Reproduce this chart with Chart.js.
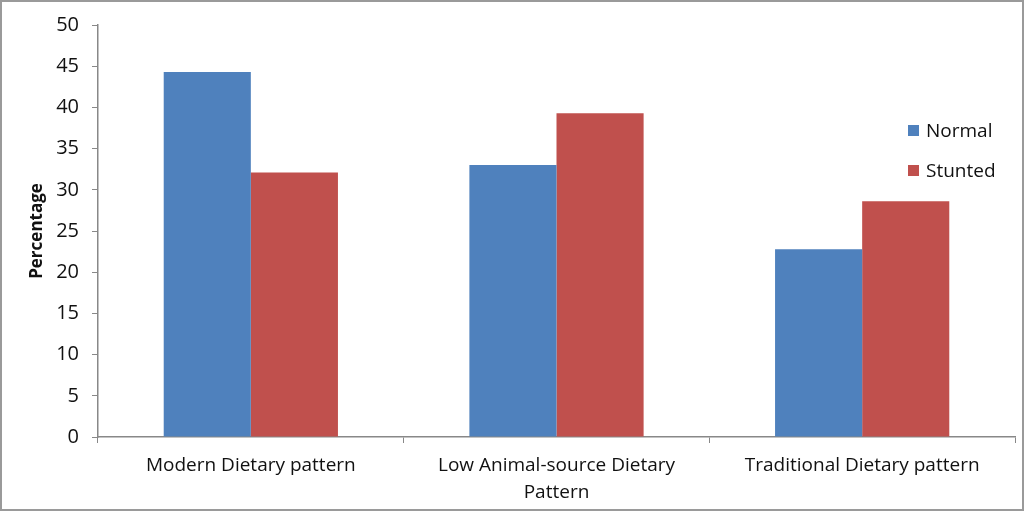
<!DOCTYPE html>
<html>
<head>
<meta charset="utf-8">
<script src="https://cdn.jsdelivr.net/npm/chart.js@4"></script>
<style>
html,body{margin:0;padding:0;background:#fff;}
#wrap{position:relative;width:1024px;height:511px;overflow:hidden;}
#frame{position:absolute;left:0;top:0;width:1020px;height:507px;border:2px solid #9a9a9a;pointer-events:none;}
#legend{position:absolute;left:908px;top:110px;font-family:'Open Sans',sans-serif;font-size:19px;color:#111;}
.li{display:flex;align-items:center;height:40px;}
.sw{width:11px;height:11px;margin-right:7px;}
</style>
</head>
<body>
<div id="wrap">
<canvas id="c" width="1024" height="511"></canvas>
<div id="legend"></div>
<div id="frame"></div>
</div>
<script>
const categories = [['Modern Dietary pattern'], ['Low Animal-source Dietary', 'Pattern'], ['Traditional Dietary pattern']];
const seriesNames = ['Normal', 'Stunted'];
const normalValues = [44.3, 33.0, 22.8];
const stuntedValues = [32.1, 39.3, 28.6];
const seriesColors = ['#4F81BD', '#C0504D'];
const yTicks = [0, 5, 10, 15, 20, 25, 30, 35, 40, 45, 50];

const leg = document.getElementById('legend');
seriesNames.forEach((n, i) => {
  const d = document.createElement('div'); d.className = 'li';
  const s = document.createElement('span'); s.className = 'sw'; s.style.background = seriesColors[i];
  const t = document.createElement('span'); t.textContent = n;
  d.appendChild(s); d.appendChild(t); leg.appendChild(d);
});

new Chart(document.getElementById('c'), {
  type: 'bar',
  data: {
    labels: categories,
    datasets: [
      {label: seriesNames[0], data: normalValues, backgroundColor: seriesColors[0], borderWidth: 0},
      {label: seriesNames[1], data: stuntedValues, backgroundColor: seriesColors[1], borderWidth: 0}
    ]
  },
  options: {
    responsive: false,
    animation: false,
    events: [],
    layout: {padding: {left: 0, right: 9, top: 22, bottom: 0}},
    plugins: {legend: {display: false}, tooltip: {enabled: false}},
    datasets: {bar: {barPercentage: 1.0, categoryPercentage: 0.57}},
    scales: {
      x: {
        grid: {drawOnChartArea: false, drawTicks: true, tickLength: 6, color: '#888', offset: true},
        border: {color: '#888', width: 1.5},
        ticks: {font: {family: "'Open Sans', sans-serif", size: 19, lineHeight: 1.42}, color: '#111', padding: 9, maxRotation: 0, autoSkip: false},
        afterFit: s => { s.height = 511 - 437; }
      },
      y: {
        min: 0, max: 50,
        afterBuildTicks: s => { s.ticks = yTicks.map(v => ({value: v})); },
        grid: {drawOnChartArea: false, drawTicks: true, tickLength: 6, color: '#888'},
        border: {color: '#888', width: 1.5},
        ticks: {font: {family: "'Open Sans', sans-serif", size: 20}, color: '#111', padding: 13},
        title: {display: true, text: 'Percentage', font: {family: "'Open Sans', sans-serif", size: 17, weight: 'bold'}, color: '#111', padding: {top: 27, bottom: 0}},
        afterFit: s => { s.width = 98; }
      }
    }
  }
});
</script>
</body>
</html>
